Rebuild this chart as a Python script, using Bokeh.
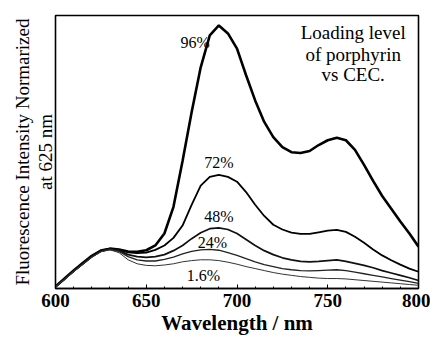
from bokeh.plotting import figure
from bokeh.models import Range1d, Title, FixedTicker, ColumnDataSource
from bokeh.embed import file_html
from bokeh.resources import INLINE
from bokeh.core.properties import value

wavelength = list(range(600, 801, 5))

load_96 = [0.05, 0.25, 0.45, 0.64, 0.82, 0.95, 1.00, 0.98, 0.93,
           0.92, 0.96, 1.08, 1.38, 2.05, 3.20, 4.42, 5.55, 6.35, 6.60, 6.40, 6.02,
           5.35, 4.72, 4.18, 3.80, 3.55, 3.42, 3.40, 3.45, 3.60, 3.72, 3.78, 3.72,
           3.48, 3.10, 2.70, 2.32, 2.00, 1.68, 1.38, 1.05]
load_72 = [0.05, 0.24, 0.44, 0.63, 0.81, 0.95, 1.00, 0.97, 0.91,
           0.89, 0.90, 0.97, 1.08, 1.27, 1.58, 2.10, 2.58, 2.80, 2.85, 2.80, 2.68,
           2.42, 2.10, 1.82, 1.60, 1.48, 1.40, 1.37, 1.37, 1.41, 1.45, 1.47, 1.42,
           1.30, 1.15, 0.98, 0.83, 0.71, 0.60, 0.50, 0.42]
load_48 = [0.05, 0.24, 0.44, 0.62, 0.80, 0.94, 0.99, 0.95, 0.85,
           0.80, 0.78, 0.80, 0.85, 0.95, 1.08, 1.25, 1.40, 1.50, 1.52, 1.48, 1.38,
           1.23, 1.08, 0.95, 0.85, 0.77, 0.72, 0.68, 0.67, 0.68, 0.70, 0.72, 0.68,
           0.63, 0.58, 0.52, 0.45, 0.39, 0.33, 0.27, 0.20]
load_24 = [0.05, 0.23, 0.43, 0.61, 0.79, 0.93, 0.98, 0.93, 0.80,
           0.72, 0.69, 0.69, 0.73, 0.79, 0.87, 0.93, 0.97, 0.98, 0.96, 0.90, 0.83,
           0.75, 0.67, 0.60, 0.55, 0.50, 0.47, 0.45, 0.44, 0.45, 0.46, 0.47, 0.45,
           0.41, 0.37, 0.33, 0.29, 0.25, 0.21, 0.17, 0.13]
load_1_6 = [0.05, 0.22, 0.42, 0.60, 0.78, 0.92, 0.97, 0.90, 0.72,
            0.62, 0.58, 0.57, 0.59, 0.62, 0.67, 0.70, 0.72, 0.72, 0.70, 0.66, 0.61,
            0.55, 0.50, 0.45, 0.40, 0.36, 0.33, 0.30, 0.28, 0.26, 0.25, 0.25, 0.24,
            0.22, 0.20, 0.18, 0.16, 0.14, 0.12, 0.10, 0.08]

series_labels = ["96%", "72%", "48%", "24%", "1.6%"]
label_x = [677.0, 690.0, 690.0, 686.5, 681.5]
label_y = [6.18, 3.15, 1.80, 1.15, 0.33]

note_lines = ["Loading level", "of porphyrin", "vs CEC."]
note_x = [764, 764, 764]
note_y = [6.42, 5.88, 5.38]

x_ticks = [600, 650, 700, 750, 800]

SERIF = "Liberation Serif"

p = figure(width=430, height=337, output_backend="svg", toolbar_location=None,
           x_range=Range1d(600, 800), y_range=Range1d(0, 6.85),
           y_axis_location=None,
           min_border_left=55, min_border_right=12, min_border_top=15,
           min_border_bottom=0)
p.grid.visible = False
p.outline_line_color = "black"
p.outline_line_width = 1.6
p.background_fill_color = "white"
p.border_fill_color = "white"

widths = [2.6, 1.8, 1.7, 1.3, 1.0]
colors = ["#000000", "#000000", "#111111", "#222222", "#333333"]
for ys, w, c in zip([load_96, load_72, load_48, load_24, load_1_6], widths, colors):
    p.line(wavelength, ys, line_width=w, line_color=c)

src = ColumnDataSource(dict(x=label_x, y=label_y, t=series_labels))
p.text(x="x", y="y", text="t", source=src, text_font=value(SERIF),
       text_font_size="16px", text_align="center", text_baseline="middle",
       text_color="black")

nsrc = ColumnDataSource(dict(x=note_x, y=note_y, t=note_lines))
p.text(x="x", y="y", text="t", source=nsrc, text_font=value(SERIF),
       text_font_size="19px", text_align="center", text_baseline="middle",
       text_color="black")

ax = p.xaxis[0]
ax.ticker = FixedTicker(ticks=x_ticks, minor_ticks=list(range(600, 801, 10)))
ax.major_tick_in = 4
ax.major_tick_out = 0
ax.minor_tick_in = 2
ax.minor_tick_out = 0
ax.axis_line_width = 1.6
ax.major_label_text_font = SERIF
ax.major_label_text_font_size = "19px"
ax.major_label_text_font_style = "bold"
ax.major_label_text_color = "black"
ax.major_label_standoff = 5
ax.axis_label = "Wavelength / nm"
ax.axis_label_text_font = SERIF
ax.axis_label_text_font_size = "21px"
ax.axis_label_text_font_style = "bold"
ax.axis_label_text_color = "black"
ax.axis_label_standoff = 1

t_inner = Title(text="at 625 nm", align="center", text_font=SERIF,
                text_font_size="19px", text_font_style="normal",
                text_color="black", standoff=0, offset=0)
t_outer = Title(text="Fluorescence Intensity Normarized", align="center", text_font=SERIF,
                text_font_size="19px", text_font_style="normal",
                text_color="black", standoff=0, offset=0)
p.add_layout(t_inner, "left")
p.add_layout(t_outer, "left")

open("out.html", "w").write(file_html(p, INLINE))
